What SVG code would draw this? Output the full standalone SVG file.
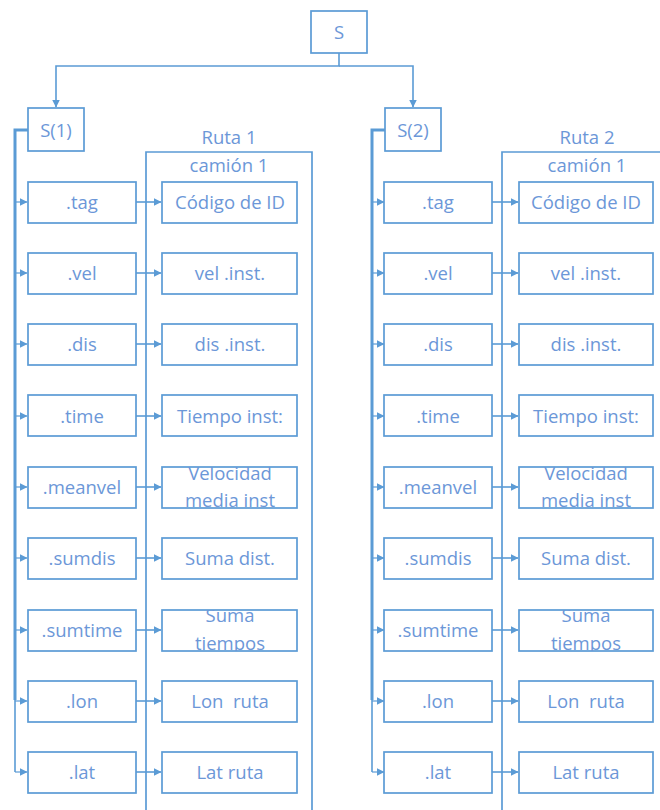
<svg xmlns="http://www.w3.org/2000/svg" width="660" height="810" viewBox="0 0 660 810">
  <style>
    .box { fill: #ffffff; stroke: #5b9bd5; stroke-width: 1.7; }
    .frame { fill: none; stroke: #5b9bd5; stroke-width: 1.7; }
    .wire { fill: none; stroke: #5b9bd5; stroke-width: 1.6; }
    .spine { fill: none; stroke: #5b9bd5; stroke-width: 3; }
    .trunk { fill: none; stroke: #5b9bd5; stroke-width: 1.2; }
    text { font-family: "Open Sans", "Liberation Sans", sans-serif; font-size: 18.5px; fill: #6c97d8; text-anchor: middle; dominant-baseline: central; white-space: pre; }
  </style>
  <defs>
    <marker id="arrow" viewBox="0 0 8 8" refX="7.5" refY="4" markerWidth="8" markerHeight="8" markerUnits="userSpaceOnUse" orient="auto">
      <path d="M0,0 L8,4 L0,8 z" fill="#5b9bd5"/>
    </marker>
    <clipPath id="clipMv1"><rect x="162" y="467" width="135" height="40"/></clipPath>
    <clipPath id="clipSt1"><rect x="162" y="610" width="135" height="41"/></clipPath>
    <clipPath id="clipMv2"><rect x="519" y="467" width="134" height="40"/></clipPath>
    <clipPath id="clipSt2"><rect x="519" y="610" width="134" height="41"/></clipPath>
  </defs>

  <!-- route containers -->
  <g id="ruta1">
    <path class="frame" d="M146,815 V152 H312 V815"/>
    <text x="229" y="136">Ruta 1</text>
    <text x="229" y="164">camión 1</text>
  </g>
  <g id="ruta2">
    <path class="frame" d="M502,815 V152 H668"/>
    <text x="587" y="136">Ruta 2</text>
    <text x="587" y="164">camión 1</text>
  </g>

  <!-- connectors -->
  <g id="connectors">
    <path class="wire" d="M339,53 V66 H56 V107" marker-end="url(#arrow)"/>
    <path class="wire" d="M339,66 H413 V107" marker-end="url(#arrow)"/>

    <!-- S(1) to its fields -->
    <path class="spine" d="M28,130 H15 V700"/>
    <path class="wire" d="M15,690 V772"/>
    <path class="trunk" d="M15,202 H27" marker-end="url(#arrow)"/>
    <path class="trunk" d="M15,273 H27" marker-end="url(#arrow)"/>
    <path class="trunk" d="M15,344 H27" marker-end="url(#arrow)"/>
    <path class="trunk" d="M15,416 H27" marker-end="url(#arrow)"/>
    <path class="trunk" d="M15,487 H27" marker-end="url(#arrow)"/>
    <path class="trunk" d="M15,558 H27" marker-end="url(#arrow)"/>
    <path class="trunk" d="M15,630 H27" marker-end="url(#arrow)"/>
    <path class="trunk" d="M15,701 H27" marker-end="url(#arrow)"/>
    <path class="trunk" d="M15,772 H27" marker-end="url(#arrow)"/>

    <!-- S(2) to its fields -->
    <path class="spine" d="M385,130 H372 V700"/>
    <path class="wire" d="M372,690 V772"/>
    <path class="trunk" d="M372,202 H384" marker-end="url(#arrow)"/>
    <path class="trunk" d="M372,273 H384" marker-end="url(#arrow)"/>
    <path class="trunk" d="M372,344 H384" marker-end="url(#arrow)"/>
    <path class="trunk" d="M372,416 H384" marker-end="url(#arrow)"/>
    <path class="trunk" d="M372,487 H384" marker-end="url(#arrow)"/>
    <path class="trunk" d="M372,558 H384" marker-end="url(#arrow)"/>
    <path class="trunk" d="M372,630 H384" marker-end="url(#arrow)"/>
    <path class="trunk" d="M372,701 H384" marker-end="url(#arrow)"/>
    <path class="trunk" d="M372,772 H384" marker-end="url(#arrow)"/>

    <!-- fields to route values -->
    <path class="wire" d="M136,202 H161" marker-end="url(#arrow)"/>
    <path class="wire" d="M136,273 H161" marker-end="url(#arrow)"/>
    <path class="wire" d="M136,344 H161" marker-end="url(#arrow)"/>
    <path class="wire" d="M136,416 H161" marker-end="url(#arrow)"/>
    <path class="wire" d="M136,487 H161" marker-end="url(#arrow)"/>
    <path class="wire" d="M136,558 H161" marker-end="url(#arrow)"/>
    <path class="wire" d="M136,630 H161" marker-end="url(#arrow)"/>
    <path class="wire" d="M136,701 H161" marker-end="url(#arrow)"/>
    <path class="wire" d="M136,772 H161" marker-end="url(#arrow)"/>

    <path class="wire" d="M492,202 H518" marker-end="url(#arrow)"/>
    <path class="wire" d="M492,273 H518" marker-end="url(#arrow)"/>
    <path class="wire" d="M492,344 H518" marker-end="url(#arrow)"/>
    <path class="wire" d="M492,416 H518" marker-end="url(#arrow)"/>
    <path class="wire" d="M492,487 H518" marker-end="url(#arrow)"/>
    <path class="wire" d="M492,558 H518" marker-end="url(#arrow)"/>
    <path class="wire" d="M492,630 H518" marker-end="url(#arrow)"/>
    <path class="wire" d="M492,701 H518" marker-end="url(#arrow)"/>
    <path class="wire" d="M492,772 H518" marker-end="url(#arrow)"/>
  </g>

  <!-- root -->
  <g id="S"><rect class="box" x="311" y="11" width="56" height="42"/><text x="339" y="31">S</text></g>
  <g id="S1"><rect class="box" x="28" y="108" width="56" height="43"/><text x="56" y="129">S(1)</text></g>
  <g id="S2"><rect class="box" x="385" y="108" width="56" height="43"/><text x="413" y="129">S(2)</text></g>

  <!-- fields of S(1) -->
  <g id="s1-tag"><rect class="box" x="28" y="182" width="108" height="41"/><text x="82" y="201">.tag</text></g>
  <g id="s1-vel"><rect class="box" x="28" y="253" width="108" height="41"/><text x="82" y="272">.vel</text></g>
  <g id="s1-dis"><rect class="box" x="28" y="324" width="108" height="41"/><text x="82" y="343">.dis</text></g>
  <g id="s1-time"><rect class="box" x="28" y="395" width="108" height="41"/><text x="82" y="415">.time</text></g>
  <g id="s1-meanvel"><rect class="box" x="28" y="467" width="108" height="41"/><text x="82" y="486">.meanvel</text></g>
  <g id="s1-sumdis"><rect class="box" x="28" y="538" width="108" height="41"/><text x="82" y="557">.sumdis</text></g>
  <g id="s1-sumtime"><rect class="box" x="28" y="610" width="108" height="41"/><text x="82" y="629">.sumtime</text></g>
  <g id="s1-lon"><rect class="box" x="28" y="681" width="108" height="41"/><text x="82" y="700">.lon</text></g>
  <g id="s1-lat"><rect class="box" x="28" y="752" width="108" height="41"/><text x="82" y="771">.lat</text></g>

  <!-- values of route 1 -->
  <g id="r1-tag"><rect class="box" x="162" y="182" width="135" height="41"/><text x="230" y="201">Código de ID</text></g>
  <g id="r1-vel"><rect class="box" x="162" y="253" width="135" height="41"/><text x="230" y="272">vel .inst.</text></g>
  <g id="r1-dis"><rect class="box" x="162" y="324" width="135" height="41"/><text x="230" y="343">dis .inst.</text></g>
  <g id="r1-time"><rect class="box" x="162" y="395" width="135" height="41"/><text x="230" y="415">Tiempo inst:</text></g>
  <g id="r1-meanvel"><rect class="box" x="162" y="467" width="135" height="41"/><g clip-path="url(#clipMv1)"><text x="230" y="472">Velocidad</text><text x="230" y="499">media inst</text></g></g>
  <g id="r1-sumdis"><rect class="box" x="162" y="538" width="135" height="41"/><text x="230" y="557">Suma dist.</text></g>
  <g id="r1-sumtime"><rect class="box" x="162" y="610" width="135" height="41"/><g clip-path="url(#clipSt1)"><text x="230" y="614">Suma</text><text x="230" y="642">tiempos</text></g></g>
  <g id="r1-lon"><rect class="box" x="162" y="681" width="135" height="41"/><text x="230" y="700">Lon  ruta</text></g>
  <g id="r1-lat"><rect class="box" x="162" y="752" width="135" height="41"/><text x="230" y="771">Lat ruta</text></g>

  <!-- fields of S(2) -->
  <g id="s2-tag"><rect class="box" x="384" y="182" width="108" height="41"/><text x="438" y="201">.tag</text></g>
  <g id="s2-vel"><rect class="box" x="384" y="253" width="108" height="41"/><text x="438" y="272">.vel</text></g>
  <g id="s2-dis"><rect class="box" x="384" y="324" width="108" height="41"/><text x="438" y="343">.dis</text></g>
  <g id="s2-time"><rect class="box" x="384" y="395" width="108" height="41"/><text x="438" y="415">.time</text></g>
  <g id="s2-meanvel"><rect class="box" x="384" y="467" width="108" height="41"/><text x="438" y="486">.meanvel</text></g>
  <g id="s2-sumdis"><rect class="box" x="384" y="538" width="108" height="41"/><text x="438" y="557">.sumdis</text></g>
  <g id="s2-sumtime"><rect class="box" x="384" y="610" width="108" height="41"/><text x="438" y="629">.sumtime</text></g>
  <g id="s2-lon"><rect class="box" x="384" y="681" width="108" height="41"/><text x="438" y="700">.lon</text></g>
  <g id="s2-lat"><rect class="box" x="384" y="752" width="108" height="41"/><text x="438" y="771">.lat</text></g>

  <!-- values of route 2 -->
  <g id="r2-tag"><rect class="box" x="519" y="182" width="134" height="41"/><text x="586" y="201">Código de ID</text></g>
  <g id="r2-vel"><rect class="box" x="519" y="253" width="134" height="41"/><text x="586" y="272">vel .inst.</text></g>
  <g id="r2-dis"><rect class="box" x="519" y="324" width="134" height="41"/><text x="586" y="343">dis .inst.</text></g>
  <g id="r2-time"><rect class="box" x="519" y="395" width="134" height="41"/><text x="586" y="415">Tiempo inst:</text></g>
  <g id="r2-meanvel"><rect class="box" x="519" y="467" width="134" height="41"/><g clip-path="url(#clipMv2)"><text x="586" y="472">Velocidad</text><text x="586" y="499">media inst</text></g></g>
  <g id="r2-sumdis"><rect class="box" x="519" y="538" width="134" height="41"/><text x="586" y="557">Suma dist.</text></g>
  <g id="r2-sumtime"><rect class="box" x="519" y="610" width="134" height="41"/><g clip-path="url(#clipSt2)"><text x="586" y="614">Suma</text><text x="586" y="642">tiempos</text></g></g>
  <g id="r2-lon"><rect class="box" x="519" y="681" width="134" height="41"/><text x="586" y="700">Lon  ruta</text></g>
  <g id="r2-lat"><rect class="box" x="519" y="752" width="134" height="41"/><text x="586" y="771">Lat ruta</text></g>
</svg>
